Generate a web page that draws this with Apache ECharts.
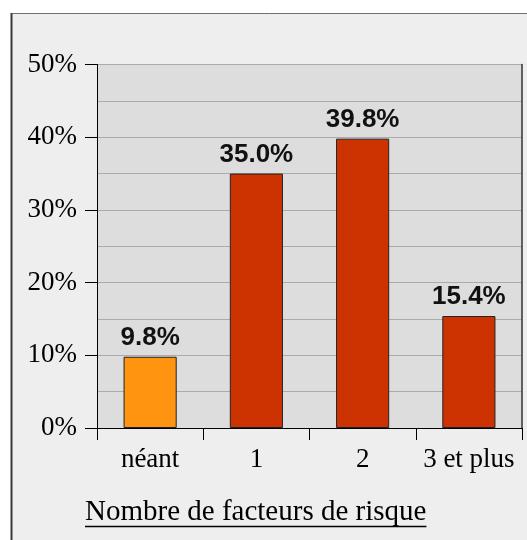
<!DOCTYPE html>
<html>
<head>
<meta charset="utf-8">
<script src="https://cdn.jsdelivr.net/npm/echarts@6/dist/echarts.min.js"></script>
<style>
html,body{margin:0;padding:0;background:#ffffff;}
#chart{width:527px;height:540px;}
</style>
</head>
<body>
<div id="chart"></div>
<script>
var categories = ['néant', '1', '2', '3 et plus'];
var values = [9.8, 35.0, 39.8, 15.4];
var yTicks = [0, 10, 20, 30, 40, 50];
var axisTitle = 'Nombre de facteurs de risque';

var barColors = ['#ff9410', '#cc3300', '#cc3300', '#cc3300'];

var chart = echarts.init(document.getElementById('chart'), null, {renderer: 'canvas'});

var titleFont = '29px "Liberation Serif"';
var ctx = document.createElement('canvas').getContext('2d');
ctx.font = titleFont;
var titleW = ctx.measureText(axisTitle).width;
var titleX = 85;

var option = {
  animation: false,
  backgroundColor: 'transparent',
  grid: {
    left: 97, top: 64.5, right: 5, bottom: 112,
    show: true, backgroundColor: '#dddddd', borderWidth: 0
  },
  graphic: [
    {type: 'rect', z: -100, shape: {x: 11, y: 13, width: 700, height: 700}, style: {fill: '#eeeeee'}},
    {type: 'line', z: 100, shape: {x1: 11.5, y1: 13.5, x2: 700, y2: 13.5}, style: {stroke: '#707070', lineWidth: 1}},
    {type: 'line', z: 100, shape: {x1: 11.5, y1: 13, x2: 11.5, y2: 700}, style: {stroke: '#3a3a3a', lineWidth: 2}},
    {type: 'text', z: 100, x: titleX, y: 512, style: {text: axisTitle, font: titleFont, fill: '#000', verticalAlign: 'middle', align: 'left'}},
    {type: 'line', z: 100, shape: {x1: titleX, y1: 526.5, x2: titleX + titleW, y2: 526.5}, style: {stroke: '#000', lineWidth: 1.3}}
  ],
  xAxis: {
    type: 'category',
    data: categories,
    axisLine: {show: true, lineStyle: {color: '#000', width: 1}},
    axisTick: {show: true, interval: 0, length: 12, lineStyle: {color: '#000'}},
    axisLabel: {interval: 0, fontFamily: 'Liberation Serif', fontSize: 27, color: '#000', margin: 18}
  },
  yAxis: [{
    type: 'value',
    min: yTicks[0], max: yTicks[yTicks.length - 1], interval: yTicks[1] - yTicks[0],
    axisLine: {show: true, lineStyle: {color: '#000', width: 1}},
    axisTick: {show: true, length: 12, lineStyle: {color: '#000'}},
    axisLabel: {formatter: '{value}%', fontFamily: 'Liberation Serif', fontSize: 27, color: '#000', margin: 20},
    splitLine: {show: true, lineStyle: {color: '#ababab', width: 1}},
    minorTick: {show: false, splitNumber: 2},
    minorSplitLine: {show: true, lineStyle: {color: '#ababab', width: 1}}
  }, {
    type: 'value', position: 'right',
    min: yTicks[0], max: yTicks[yTicks.length - 1], interval: yTicks[1] - yTicks[0],
    axisLine: {show: true, lineStyle: {color: '#333', width: 1.5}},
    axisTick: {show: false}, axisLabel: {show: false}, splitLine: {show: false}
  }],
  series: [{
    type: 'bar',
    data: values,
    barWidth: '50%',
    itemStyle: {
      color: function (p) { return barColors[p.dataIndex]; },
      borderColor: '#222', borderWidth: 1
    },
    label: {
      show: true, position: 'top', distance: 6,
      formatter: function (p) { return p.value.toFixed(1) + '%'; },
      fontFamily: 'Liberation Sans', fontWeight: 'bold', fontSize: 26, color: '#111'
    }
  }]
};
chart.setOption(option);
</script>
</body>
</html>
